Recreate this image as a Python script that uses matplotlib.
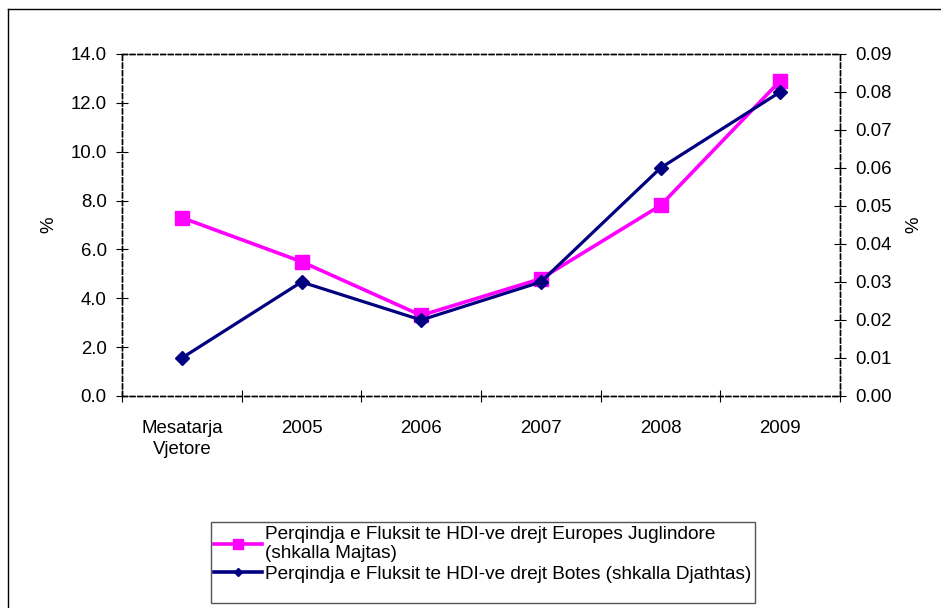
import matplotlib
matplotlib.use("Agg")
import matplotlib.pyplot as plt
from matplotlib.lines import Line2D
from matplotlib.patches import Rectangle

plt.rcParams['font.family'] = ['Liberation Sans', 'DejaVu Sans']

categories = ["Mesatarja\nVjetore", "2005", "2006", "2007", "2008", "2009"]
europe_se = [7.3, 5.5, 3.3, 4.8, 7.8, 12.9]
world = [0.01, 0.03, 0.02, 0.03, 0.06, 0.08]
left_ticks = [0, 2, 4, 6, 8, 10, 12, 14]
right_ticks = [0.00, 0.01, 0.02, 0.03, 0.04, 0.05, 0.06, 0.07, 0.08, 0.09]
label_europe = "Perqindja e Fluksit te HDI-ve drejt Europes Juglindore\n(shkalla Majtas)"
label_world = "Perqindja e Fluksit te HDI-ve drejt Botes (shkalla Djathtas)"

W, H = 941, 608
FS = 13.4
fig = plt.figure(figsize=(W / 100, H / 100), dpi=100)

# outer chart border (left and top edges visible)
fig.add_artist(Line2D([8 / W, 8 / W], [0, 1 - 9 / H], color="black", lw=1.0,
                      transform=fig.transFigure))
fig.add_artist(Line2D([8 / W, 1], [1 - 9 / H, 1 - 9 / H], color="black", lw=1.0,
                      transform=fig.transFigure))

left, right, top, bottom = 122, 840, 54, 396
ax = fig.add_axes([left / W, 1 - bottom / H, (right - left) / W, (bottom - top) / H])
ax2 = ax.twinx()

x = list(range(len(categories)))
ax.plot(x, europe_se, color="#FF00FF", lw=2.6, marker="s", markersize=10.5,
        label=label_europe, zorder=3)
ax2.plot(x, world, color="#000080", lw=2.3, marker="D", markersize=7.5,
         label=label_world, zorder=3)

ax.set_xlim(-0.5, len(categories) - 0.5)
ax.set_ylim(0, 14)
ax2.set_ylim(0, 0.09)

ax.set_yticks(left_ticks)
ax.set_yticklabels([f"{v:.1f}" for v in left_ticks])
ax2.set_yticks(right_ticks)
ax2.set_yticklabels([f"{v:.2f}" for v in right_ticks])

# category boundary ticks on x axis, labels centred in each slot
ax.set_xticks([i - 0.5 for i in range(len(categories) + 1)])
ax.set_xticklabels([])
ax.set_xticks(x, minor=True)
ax.set_xticklabels(categories, minor=True, linespacing=1.3)
ax.tick_params(axis="x", which="minor", length=0, pad=17, labelsize=FS)
ax.tick_params(axis="x", which="major", direction="inout", length=8, width=0.8)
ax.tick_params(axis="y", direction="inout", length=8, width=0.8, labelsize=FS, pad=7)
ax2.tick_params(axis="y", direction="inout", length=8, width=0.8, labelsize=FS, pad=7)

for a in (ax, ax2):
    for s in a.spines.values():
        s.set_linestyle((0, (3.5, 2)))
        s.set_linewidth(1.0)
        s.set_color("black")

ax.set_ylabel("%", fontsize=FS, labelpad=9)
ax2.set_ylabel("%", fontsize=FS, labelpad=10, rotation=90)

# legend box
fig.add_artist(Rectangle((211 / W, 1 - 603 / H), (755 - 211) / W, (603 - 522) / H,
                         transform=fig.transFigure, facecolor="white",
                         edgecolor="#555555", lw=1.0))
h1, l1 = ax.get_legend_handles_labels()
h2, l2 = ax2.get_legend_handles_labels()
leg_h = [Line2D([], [], color="#FF00FF", lw=2.6, marker="s", markersize=7),
         Line2D([], [], color="#000080", lw=2.6, marker="D", markersize=4)]
leg = fig.legend(leg_h, [l1[0], l2[0]], loc="upper left",
                 bbox_to_anchor=(211 / W, 1 - 523 / H), bbox_transform=fig.transFigure,
                 frameon=False, fontsize=FS + 0.3,
                 handlelength=2.55, handletextpad=0.15, borderpad=0.15,
                 labelspacing=0.15, borderaxespad=0)
for t in leg.get_texts():
    t.set_linespacing(1.2)

fig.savefig("out.png", dpi=100)
